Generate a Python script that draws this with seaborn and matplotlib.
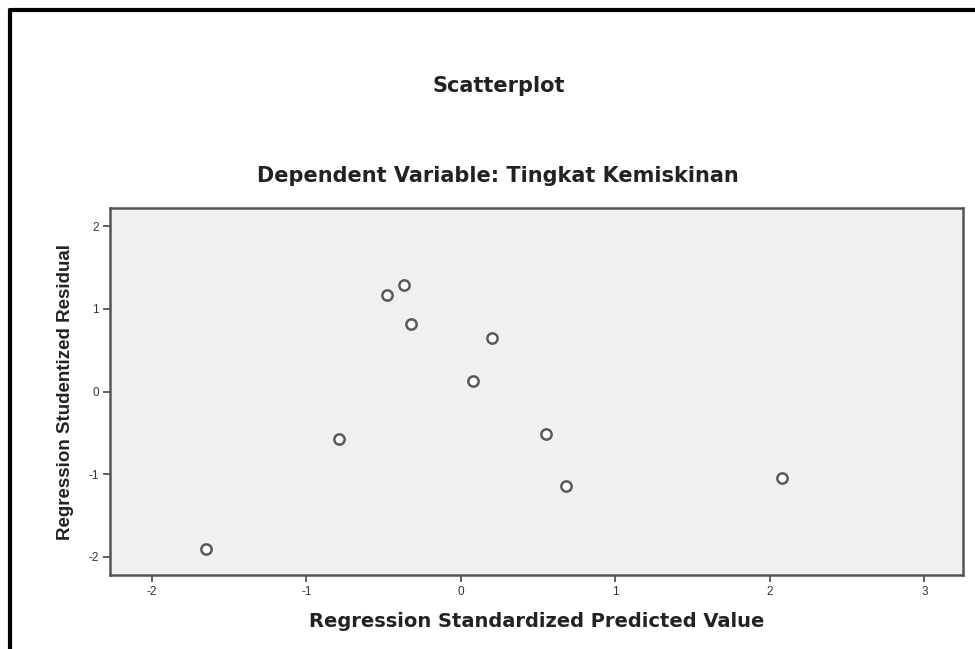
import numpy as np
import pandas as pd
import seaborn as sns
from matplotlib import pyplot as plt
from matplotlib.lines import Line2D

predicted = [-1.65, -0.79, -0.48, -0.37, -0.32, 0.08, 0.20, 0.55, 0.68, 2.08]
residual = [-1.90, -0.58, 1.17, 1.29, 0.82, 0.13, 0.65, -0.52, -1.14, -1.05]
x_ticks = [-2, -1, 0, 1, 2, 3]
y_ticks = [-2, -1, 0, 1, 2]

df = pd.DataFrame({"pred": predicted, "resid": residual})

sns.set_style("white")
plt.rcParams["font.family"] = ["Liberation Sans", "DejaVu Sans"]
plt.rcParams["axes.unicode_minus"] = False

fig = plt.figure(figsize=(9.75, 6.49), dpi=100)
ax = fig.add_axes([0.1128, 0.114, 0.875, 0.5655])
ax.set_facecolor("#f0f0f0")

sns.scatterplot(data=df, x="pred", y="resid", ax=ax, s=55, marker="o",
                facecolor="white", edgecolor="#5a5a5a", linewidth=1.8)

ax.set_xlim(-2.27, 3.25)
ax.set_ylim(-2.22, 2.22)
ax.set_xticks(x_ticks)
ax.set_yticks(y_ticks)
ax.tick_params(axis="both", bottom=True, left=True, direction="out", length=5,
               width=1.2, color="#444444", labelsize=8.5, labelcolor="#333333", pad=3)
for sp in ax.spines.values():
    sp.set_color("#555555")
    sp.set_linewidth(1.8)

ax.set_xlabel("Regression Standardized Predicted Value", fontsize=14,
              fontweight="bold", color="#222222", labelpad=10,
              family=["DejaVu Sans"])
ax.set_ylabel("Regression Studentized Residual", fontsize=13.5,
              fontweight="bold", color="#222222", labelpad=10)

fig.text(499 / 975, 1 - 86 / 649, "Scatterplot", ha="center", va="center",
         fontsize=15, fontweight="bold", color="#222222", family=["DejaVu Sans"])
fig.text(257 / 975, 1 - 176 / 649, "Dependent Variable: Tingkat Kemiskinan",
         ha="left", va="center", fontsize=15, fontweight="bold", color="#222222",
         family=["DejaVu Sans"])

# outer frame (top and left edges of the original screenshot box)
fig.add_artist(Line2D([10 / 975, 1], [1 - 10 / 649, 1 - 10 / 649],
                      transform=fig.transFigure, color="black", lw=3))
fig.add_artist(Line2D([10 / 975, 10 / 975], [0, 1 - 10 / 649],
                      transform=fig.transFigure, color="black", lw=3))

plt.savefig("out.png", dpi=100)
plt.close()
